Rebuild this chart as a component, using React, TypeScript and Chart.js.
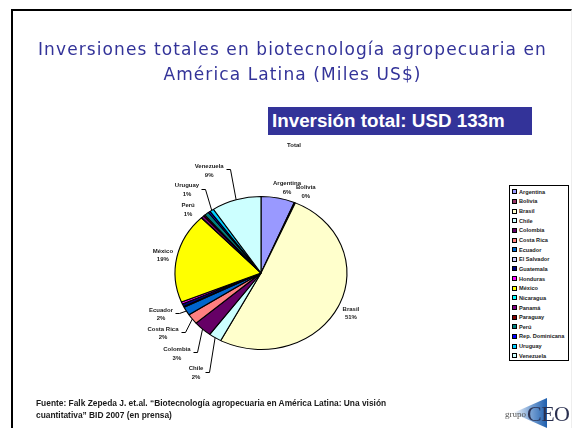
import React, { useEffect, useRef } from "react";
import { Chart, registerables } from "chart.js";

Chart.register(...registerables);

// ---- Data (thousands of US$) ----
const countries = [
  "Argentina", "Bolivia", "Brasil", "Chile", "Colombia", "Costa Rica", "Ecuador",
  "El Salvador", "Guatemala", "Honduras", "México", "Nicaragua", "Panamá",
  "Paraguay", "Perú", "Rep. Dominicana", "Uruguay", "Venezuela",
];
const investment = [
  8400, 300, 68000, 3200, 4600, 2900, 2400,
  200, 800, 600, 25200, 100, 700,
  400, 1100, 500, 1000, 12400,
];
const labelledCountries = [
  "Argentina", "Bolivia", "Brasil", "Chile", "Colombia", "Costa Rica",
  "Ecuador", "México", "Perú", "Uruguay", "Venezuela",
];
const chartTitle = "Total";
const bannerText = "Inversión total: USD 133m";
const titleLines = [
  "Inversiones totales en biotecnología agropecuaria en",
  "América Latina (Miles US$)",
];
const sourceLines = [
  "Fuente: Falk Zepeda J. et.al. “Biotecnología agropecuaria en América Latina: Una visión",
  "cuantitativa” BID 2007 (en prensa)",
];

// ---- Styles ----
const sliceColors = [
  "#9999FF", "#993366", "#FFFFCC", "#CCFFFF", "#660066", "#FF8080", "#0066CC",
  "#CCCCFF", "#000080", "#FF00FF", "#FFFF00", "#00FFFF", "#800080",
  "#800000", "#008080", "#0000FF", "#00CCFF", "#CCFFFF",
];
// label centre offset from slice edge point, [dx, dy]
const labelOffsets: Record<string, [number, number]> = {
  Argentina: [9, -10.5],
  Bolivia: [11, -11],
  Brasil: [12.5, 7],
  Chile: [-19, 35],
  Colombia: [-25.6, 24.3],
  "Costa Rica": [-29.3, 14.3],
  Ecuador: [-25.4, 3.2],
  México: [-14, -2.3],
  Perú: [-18.6, -4],
  Uruguay: [-24.7, -20.7],
  Venezuela: [-27, -29.3],
};
const X_STRETCH = 1.124;
const PIE_RADIUS = 76.5;
const LABEL_FONT = "bold 6px 'Liberation Sans', Arial, sans-serif";

const ellipsePlugin = {
  id: "ellipse",
  beforeDatasetsDraw(chart: any) {
    const arc = chart.getDatasetMeta(0).data[0];
    if (!arc) return;
    const ctx = chart.ctx;
    ctx.save();
    ctx.translate(arc.x, arc.y);
    ctx.scale(X_STRETCH, 1);
    ctx.translate(-arc.x, -arc.y);
  },
  afterDatasetsDraw(chart: any) {
    chart.ctx.restore();
  },
};

const labelPlugin = {
  id: "sliceLabels",
  afterDraw(chart: any) {
    const ctx = chart.ctx;
    const meta = chart.getDatasetMeta(0);
    const data = chart.data.datasets[0].data as number[];
    const total = data.reduce((a, b) => a + b, 0);
    const labels = chart.data.labels as string[];
    ctx.save();
    ctx.font = LABEL_FONT;
    ctx.fillStyle = "#1a1a1a";
    ctx.strokeStyle = "#000";
    ctx.lineWidth = 1;
    ctx.textAlign = "center";
    ctx.textBaseline = "middle";
    meta.data.forEach((arc: any, i: number) => {
      const name = labels[i];
      if (!labelledCountries.includes(name)) return;
      const mid = (arc.startAngle + arc.endAngle) / 2;
      const r = arc.outerRadius;
      const ex = arc.x + r * X_STRETCH * Math.cos(mid);
      const ey = arc.y + r * Math.sin(mid);
      const off = labelOffsets[name] || [0, 0];
      const lx = ex + off[0];
      const ly = ey + off[1];
      const pct = Math.round((data[i] / total) * 100) + "%";
      ctx.fillText(name, lx, ly - 4);
      ctx.fillText(pct, lx, ly + 4.5);
      const dist = Math.hypot(off[0], off[1]);
      if (dist > 20) {
        const w = Math.max(ctx.measureText(name).width, ctx.measureText(pct).width) / 2;
        const side = ex > lx ? 1 : -1;
        const sx = lx + side * (w + 2);
        const sy = ly - 1;
        ctx.beginPath();
        ctx.moveTo(Math.round(sx) + 0.5, Math.round(sy) + 0.5);
        ctx.lineTo(Math.round(sx + side * 4) + 0.5, Math.round(sy) + 0.5);
        ctx.lineTo(ex, ey);
        ctx.stroke();
      }
    });
    ctx.restore();
  },
};

function PieChart() {
  const ref = useRef<HTMLCanvasElement>(null);
  useEffect(() => {
    if (!ref.current) return;
    const chart = new Chart(ref.current, {
      type: "pie",
      data: {
        labels: countries,
        datasets: [
          {
            data: investment,
            backgroundColor: sliceColors,
            borderColor: "#000",
            borderWidth: 1,
            radius: PIE_RADIUS,
          } as any,
        ],
      },
      options: {
        responsive: false,
        animation: false,
        devicePixelRatio: 1,
        layout: { padding: { left: 0, right: 51, top: 118, bottom: 0 } },
        plugins: {
          legend: { display: false },
          tooltip: { enabled: false },
          title: { display: false },
        },
      },
      plugins: [ellipsePlugin, labelPlugin],
    });
    return () => chart.destroy();
  }, []);
  return (
    <canvas
      ref={ref}
      width={573}
      height={428}
      style={{ position: "absolute", left: 0, top: 0, width: 573, height: 428 }}
    />
  );
}

export default function App() {
  return (
    <div
      style={{
        position: "absolute",
        left: 0,
        top: 0,
        width: 573,
        height: 428,
        overflow: "hidden",
        background: "#fff",
        fontFamily: "'Liberation Sans', Arial, sans-serif",
      }}
    >
      {/* slide frame */}
      <div
        style={{
          position: "absolute",
          left: 11,
          top: 9,
          width: 558,
          height: 440,
          borderLeft: "2px solid #000",
          borderTop: "2px solid #000",
          borderRight: "1px solid #eee",
        }}
      />
      <PieChart />
      {/* title */}
      <div
        style={{
          position: "absolute",
          left: 10,
          top: 37,
          width: 565,
          textAlign: "center",
          color: "#333399",
          fontFamily: "'DejaVu Sans', sans-serif",
          fontSize: 17,
          letterSpacing: 1.1,
          lineHeight: "25px",
          whiteSpace: "nowrap",
        }}
      >
        {titleLines.map((t) => (
          <div key={t}>{t}</div>
        ))}
      </div>
      {/* banner */}
      <div
        style={{
          position: "absolute",
          left: 268,
          top: 107,
          width: 264,
          height: 28,
          background: "#333399",
          color: "#fff",
          fontWeight: "bold",
          fontSize: 18.8,
          lineHeight: "28px",
          paddingLeft: 4,
          boxSizing: "border-box",
          whiteSpace: "nowrap",
        }}
      >
        {bannerText}
      </div>
      {/* chart title */}
      <div
        style={{
          position: "absolute",
          left: 274,
          top: 142,
          width: 40,
          textAlign: "center",
          fontSize: 6,
          fontWeight: "bold",
          color: "#1a1a1a",
        }}
      >
        {chartTitle}
      </div>
      {/* legend */}
      <div
        style={{
          position: "absolute",
          left: 509,
          top: 185,
          width: 60,
          height: 176,
          border: "1px solid #000",
          boxSizing: "border-box",
          paddingTop: 1,
          background: "#fff",
        }}
      >
        {countries.map((c, i) => (
          <div
            key={c}
            style={{
              display: "flex",
              alignItems: "center",
              height: 9.65,
              paddingLeft: 2,
              fontSize: 5.6,
              fontWeight: "bold",
              color: "#1a1a1a",
              whiteSpace: "nowrap",
            }}
          >
            <span
              style={{
                display: "inline-block",
                width: 3,
                height: 3,
                background: sliceColors[i],
                border: "1px solid #000",
                marginRight: 2,
                boxSizing: "content-box",
                flexShrink: 0,
              }}
            />
            {c}
          </div>
        ))}
      </div>
      {/* source */}
      <div
        style={{
          position: "absolute",
          left: 36,
          top: 397,
          fontSize: 8.4,
          fontWeight: "bold",
          lineHeight: "12px",
          color: "#1a1a1a",
          whiteSpace: "nowrap",
        }}
      >
        {sourceLines.map((t) => (
          <div key={t}>{t}</div>
        ))}
      </div>
      {/* logo */}
      <div
        style={{
          position: "absolute",
          left: 513,
          top: 398,
          width: 34,
          height: 30,
          background: "linear-gradient(90deg, #ffffff 0%, #7fa6d6 50%, #1f5fae 100%)",
          clipPath: "polygon(0 50%, 100% 0, 100% 100%)",
        }}
      />
      <div
        style={{
          position: "absolute",
          left: 505,
          top: 409,
          fontFamily: "'Liberation Serif', serif",
          fontSize: 9,
          color: "#555",
        }}
      >
        grupo
      </div>
      <div
        style={{
          position: "absolute",
          left: 527,
          top: 401,
          fontFamily: "'Liberation Serif', serif",
          fontSize: 22,
          color: "#2a3050",
          letterSpacing: -0.5,
        }}
      >
        CEO
      </div>
    </div>
  );
}
